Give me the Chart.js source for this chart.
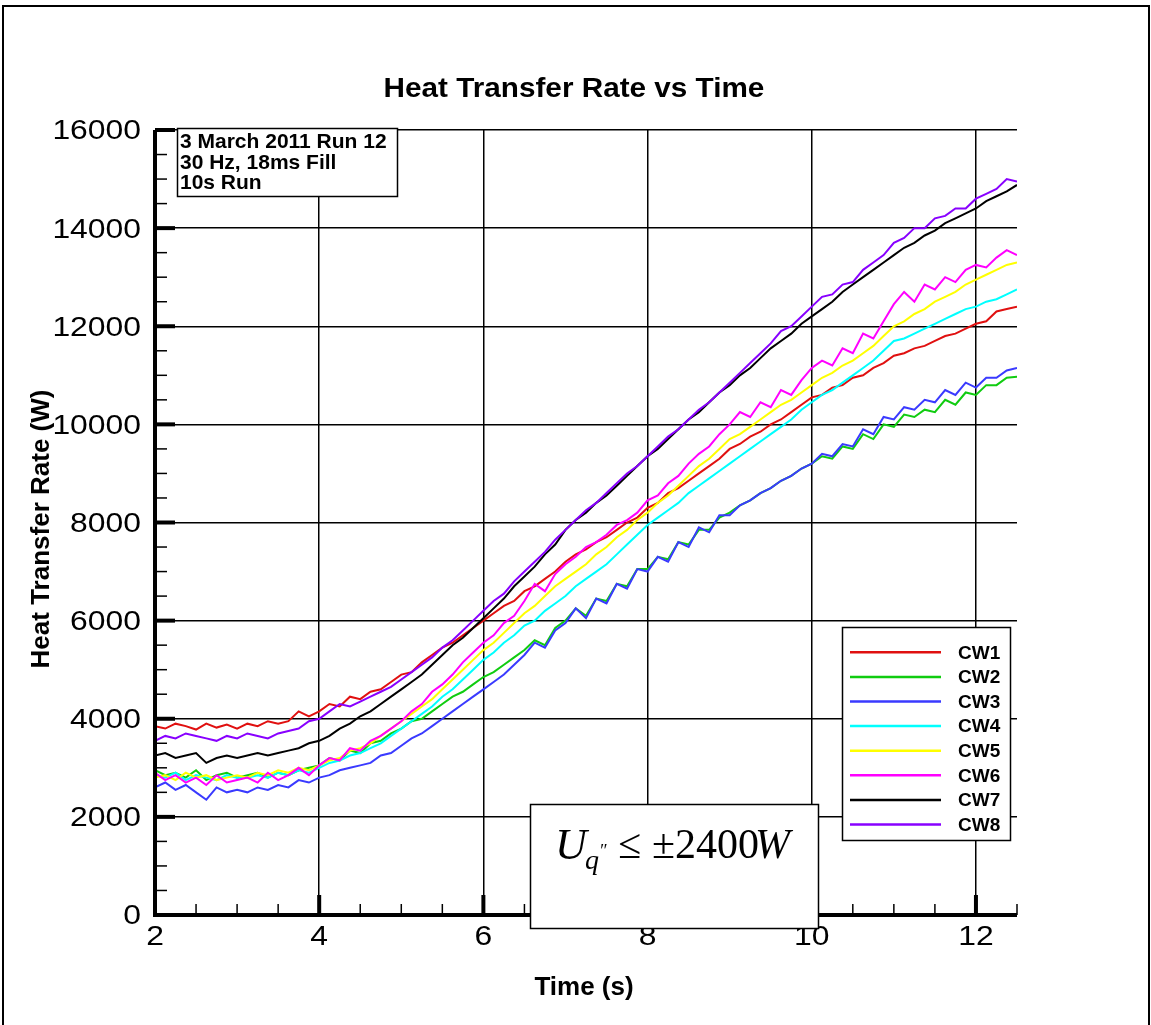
<!DOCTYPE html>
<html>
<head>
<meta charset="utf-8">
<title>Heat Transfer Rate vs Time</title>
<script src="https://cdn.jsdelivr.net/npm/chart.js@4.4.1/dist/chart.umd.min.js"></script>
<style>
  html, body { margin: 0; padding: 0; background: #ffffff; }
  canvas { display: block; }
</style>
</head>
<body>
<canvas id="chart" width="1151" height="1025"></canvas>
<script>
// Sample grid: one reading every 0.125 s from 2 s to 12.5 s
const sampleStart = 2;
const sampleStep = 0.125;
const sampleCount = 85;
const time = Array.from({ length: sampleCount }, (_, i) => sampleStart + i * sampleStep);

const seriesNames = ['CW1', 'CW2', 'CW3', 'CW4', 'CW5', 'CW6', 'CW7', 'CW8'];
const seriesColors = ['#e01010', '#10cc10', '#3a3aff', '#00ffff', '#ffff00', '#ff00ff', '#000000', '#8800ff'];

// Heat transfer rate (W) per channel
const cw1 = [3850, 3800, 3900, 3850, 3780, 3900, 3820, 3880, 3800,
  3900, 3850, 3950, 3900, 3950, 4150, 4050, 4150,
  4300, 4250, 4450, 4400, 4550, 4600, 4750, 4900,
  4950, 5150, 5300, 5450, 5550, 5700, 5850, 6000,
  6150, 6300, 6400, 6600, 6700, 6850, 7000, 7200,
  7350, 7450, 7600, 7700, 7850, 8000, 8100, 8300,
  8400, 8600, 8700, 8850, 9000, 9150, 9300, 9500,
  9600, 9750, 9850, 10000, 10100, 10250, 10400, 10550,
  10600, 10750, 10800, 10950, 11000, 11150, 11250, 11400,
  11450, 11550, 11600, 11700, 11800, 11850, 11950, 12050,
  12100, 12300, 12350, 12400];
const cw2 = [2950, 2850, 2900, 2800, 2950, 2750, 2850, 2900, 2800,
  2850, 2900, 2800, 2900, 2850, 2950, 3000, 3050,
  3200, 3150, 3350, 3300, 3500, 3550, 3700, 3800,
  3950, 4000, 4150, 4300, 4450, 4550, 4700, 4850,
  4950, 5100, 5250, 5400, 5600, 5500, 5850, 6000,
  6250, 6100, 6450, 6400, 6750, 6700, 7050, 7050,
  7300, 7250, 7600, 7550, 7850, 7850, 8100, 8200,
  8350, 8450, 8600, 8700, 8850, 8950, 9100, 9200,
  9350, 9300, 9550, 9500, 9800, 9700, 10000, 9950,
  10200, 10150, 10300, 10250, 10500, 10400, 10650, 10600,
  10800, 10800, 10950, 10970];
const cw3 = [2600, 2700, 2550, 2650, 2500, 2350, 2600, 2500, 2550,
  2500, 2600, 2550, 2650, 2600, 2750, 2700, 2800,
  2850, 2950, 3000, 3050, 3100, 3250, 3300, 3450,
  3600, 3700, 3850, 4000, 4150, 4300, 4450, 4600,
  4750, 4900, 5100, 5300, 5550, 5450, 5800, 5950,
  6250, 6050, 6450, 6350, 6750, 6650, 7050, 7000,
  7300, 7200, 7600, 7500, 7900, 7800, 8150, 8150,
  8350, 8450, 8600, 8700, 8850, 8950, 9100, 9200,
  9400, 9350, 9600, 9550, 9900, 9800, 10150, 10100,
  10350, 10300, 10500, 10450, 10700, 10600, 10850, 10750,
  10950, 10950, 11100, 11150];
const cw4 = [2850, 2800, 2900, 2750, 2850, 2800, 2750, 2850, 2800,
  2800, 2850, 2800, 2900, 2850, 2950, 2900, 3000,
  3100, 3150, 3250, 3300, 3400, 3500, 3650, 3800,
  3950, 4100, 4250, 4450, 4600, 4800, 5000, 5200,
  5350, 5550, 5700, 5900, 6000, 6200, 6350, 6500,
  6700, 6850, 7000, 7150, 7350, 7550, 7750, 7950,
  8100, 8250, 8400, 8600, 8750, 8900, 9050, 9200,
  9350, 9500, 9650, 9800, 9950, 10100, 10300, 10450,
  10600, 10700, 10850, 11000, 11150, 11300, 11500, 11700,
  11750, 11850, 11950, 12050, 12150, 12250, 12350, 12400,
  12500, 12550, 12650, 12750];
const cw5 = [2800, 2850, 2750, 2900, 2800, 2850, 2750, 2800, 2850,
  2800, 2900, 2850, 2950, 2900, 3000, 2950, 3050,
  3150, 3200, 3350, 3400, 3500, 3650, 3800, 3950,
  4100, 4250, 4400, 4600, 4800, 5000, 5200, 5400,
  5550, 5750, 5950, 6150, 6300, 6500, 6700, 6850,
  7000, 7150, 7350, 7500, 7700, 7850, 8050, 8200,
  8400, 8550, 8750, 8950, 9150, 9300, 9500, 9700,
  9800, 9950, 10100, 10250, 10400, 10500, 10650, 10800,
  10950, 11050, 11200, 11300, 11450, 11600, 11800, 12000,
  12100, 12250, 12350, 12500, 12600, 12700, 12850, 12950,
  13050, 13150, 13250, 13300];
const cw6 = [2900, 2750, 2850, 2700, 2800, 2650, 2850, 2700, 2750,
  2800, 2700, 2900, 2750, 2850, 3000, 2850, 3050,
  3200, 3150, 3400, 3350, 3550, 3650, 3800, 3950,
  4150, 4300, 4550, 4700, 4900, 5150, 5350, 5550,
  5700, 5950, 6100, 6400, 6750, 6600, 6950, 7150,
  7300, 7500, 7600, 7750, 7950, 8050, 8200, 8450,
  8550, 8800, 8950, 9200, 9400, 9550, 9800, 10000,
  10250, 10150, 10450, 10350, 10700, 10600, 10900, 11150,
  11300, 11200, 11550, 11450, 11850, 11750, 12100, 12450,
  12700, 12500, 12850, 12750, 13000, 12900, 13150, 13250,
  13200, 13400, 13550, 13450];
const cw7 = [3250, 3300, 3200, 3250, 3300, 3100, 3200, 3250, 3200,
  3250, 3300, 3250, 3300, 3350, 3400, 3500, 3550,
  3650, 3800, 3900, 4050, 4150, 4300, 4450, 4600,
  4750, 4900, 5100, 5300, 5500, 5650, 5850, 6050,
  6250, 6450, 6700, 6900, 7100, 7350, 7550, 7850,
  8050, 8200, 8400, 8550, 8750, 8950, 9150, 9350,
  9500, 9700, 9900, 10100, 10250, 10450, 10650, 10800,
  11000, 11150, 11350, 11550, 11700, 11850, 12050, 12200,
  12350, 12500, 12700, 12850, 13000, 13150, 13300, 13450,
  13600, 13700, 13850, 13950, 14100, 14200, 14300, 14400,
  14550, 14650, 14750, 14880];
const cw8 = [3550, 3650, 3600, 3700, 3650, 3600, 3550, 3650, 3600,
  3700, 3650, 3600, 3700, 3750, 3800, 3950, 4000,
  4150, 4300, 4250, 4350, 4450, 4550, 4650, 4800,
  4950, 5100, 5250, 5450, 5600, 5800, 6000, 6200,
  6400, 6550, 6800, 7000, 7200, 7400, 7650, 7850,
  8050, 8250, 8400, 8600, 8800, 9000, 9150, 9350,
  9550, 9750, 9900, 10100, 10300, 10450, 10650, 10850,
  11050, 11250, 11450, 11650, 11900, 12000, 12200, 12400,
  12600, 12650, 12850, 12900, 13150, 13300, 13450, 13700,
  13800, 14000, 14000, 14200, 14250, 14400, 14400, 14600,
  14700, 14800, 15000, 14950];
const seriesValues = [cw1, cw2, cw3, cw4, cw5, cw6, cw7, cw8];

const xTicks = [2, 4, 6, 8, 10, 12];
const yTicks = [0, 2000, 4000, 6000, 8000, 10000, 12000, 14000, 16000];
const xMinorStep = 0.5;
const yMinorStep = 500;

const chartTitle = 'Heat Transfer Rate vs Time';
const xTitle = 'Time (s)';
const yTitle = 'Heat Transfer Rate (W)';
const infoLines = ['3 March 2011 Run 12', '30 Hz, 18ms Fill', '10s Run'];

const SANS = '"Liberation Sans", Arial, Helvetica, sans-serif';
const SERIF = '"Liberation Serif", "Times New Roman", serif';

function stretchedText(ctx, text, x, y, align, font, sx) {
  ctx.save();
  ctx.translate(x, y);
  ctx.scale(sx, 1);
  ctx.font = font;
  ctx.textAlign = align;
  ctx.textBaseline = 'middle';
  ctx.fillText(text, 0, 0);
  ctx.restore();
}

function seg(ctx, x1, y1, x2, y2, w) {
  ctx.lineWidth = w;
  ctx.beginPath();
  ctx.moveTo(x1, y1);
  ctx.lineTo(x2, y2);
  ctx.stroke();
}

const decorations = {
  id: 'decorations',
  afterDraw(chart) {
    const { ctx, chartArea: a, scales: { x, y } } = chart;
    ctx.save();
    ctx.fillStyle = '#000';
    ctx.strokeStyle = '#000';

    // page frame
    ctx.lineWidth = 2;
    ctx.strokeRect(3, 6, 1146, 1030);

    // axes
    seg(ctx, a.left, a.top, a.left, a.bottom + 2, 4);
    seg(ctx, a.left - 2, a.bottom, a.right, a.bottom, 4);

    // x ticks
    for (let v = x.min; v <= x.max + 1e-9; v += xMinorStep) {
      const px = x.getPixelForValue(v);
      const major = xTicks.includes(v);
      seg(ctx, px, a.bottom, px, a.bottom - (major ? 20 : 11), major ? 4 : 1.5);
    }
    // y ticks
    for (let v = y.min; v <= y.max + 1e-9; v += yMinorStep) {
      const py = y.getPixelForValue(v);
      const major = yTicks.includes(v);
      seg(ctx, a.left, py, a.left + (major ? 20 : 12), py, major ? 4 : 1.5);
    }

    // tick labels
    const tickFont = '27px ' + SANS;
    xTicks.forEach(v => stretchedText(ctx, String(v), x.getPixelForValue(v), a.bottom + 23, 'center', tickFont, 1.18));
    yTicks.forEach(v => stretchedText(ctx, String(v), a.left - 14, y.getPixelForValue(v) + 2, 'right', tickFont, 1.18));

    // titles
    stretchedText(ctx, chartTitle, 574, 90, 'center', 'bold 27px ' + SANS, 1.1);
    stretchedText(ctx, xTitle, 584, 988, 'center', 'bold 26px ' + SANS, 1);
    ctx.save();
    ctx.translate(42, 529);
    ctx.rotate(-Math.PI / 2);
    stretchedText(ctx, yTitle, 0, 0, 'center', 'bold 26px ' + SANS, 1);
    ctx.restore();

    // run information box
    ctx.fillStyle = '#fff';
    ctx.fillRect(177.5, 128.5, 220, 68);
    ctx.lineWidth = 1.5;
    ctx.strokeRect(177.5, 128.5, 220, 68);
    ctx.fillStyle = '#000';
    ctx.font = 'bold 21px ' + SANS;
    ctx.textAlign = 'left';
    ctx.textBaseline = 'alphabetic';
    infoLines.forEach((t, i) => ctx.fillText(t, 180, 148 + i * 20.5));

    // legend
    ctx.fillStyle = '#fff';
    ctx.fillRect(842.5, 627.5, 168, 213);
    ctx.lineWidth = 1.5;
    ctx.strokeRect(842.5, 627.5, 168, 213);
    ctx.font = 'bold 19px ' + SANS;
    ctx.textBaseline = 'middle';
    seriesNames.forEach((name, i) => {
      const ly = 652.3 + i * 24.6;
      ctx.strokeStyle = seriesColors[i];
      seg(ctx, 850, ly, 941, ly, 2.5);
      ctx.fillStyle = '#000';
      ctx.fillText(name, 958, ly + 1);
    });

    // uncertainty box
    ctx.strokeStyle = '#000';
    ctx.fillStyle = '#fff';
    ctx.fillRect(530.5, 804.5, 288, 124);
    ctx.lineWidth = 1.5;
    ctx.strokeRect(530.5, 804.5, 288, 124);
    ctx.fillStyle = '#000';
    ctx.textBaseline = 'alphabetic';
    ctx.textAlign = 'left';
    ctx.font = 'italic 44px ' + SERIF;
    ctx.fillText('U', 555, 859);
    ctx.font = 'italic 28px ' + SERIF;
    ctx.fillText('q', 585, 869);
    ctx.font = 'italic 18px ' + SERIF;
    ctx.fillText('\u2033', 599, 857);
    ctx.font = '42px ' + SERIF;
    ctx.fillText('\u2264', 618, 858);
    ctx.fillText('\u00B12400', 652, 858);
    ctx.font = 'italic 42px ' + SERIF;
    ctx.fillText('W', 755, 858);

    ctx.restore();
  }
};

const datasets = seriesValues.map((vals, i) => ({
  label: seriesNames[i],
  data: time.map((t, k) => ({ x: t, y: vals[k] })),
  borderColor: seriesColors[i],
  backgroundColor: seriesColors[i],
  borderWidth: 2,
  pointRadius: 0,
  tension: 0,
  fill: false,
  order: seriesNames.length - i
}));

new Chart(document.getElementById('chart'), {
  type: 'line',
  data: { datasets },
  plugins: [decorations],
  options: {
    responsive: false,
    animation: false,
    layout: { padding: { top: 130, right: 134, bottom: 0, left: 0 } },
    plugins: { legend: { display: false }, tooltip: { enabled: false }, title: { display: false } },
    scales: {
      x: {
        type: 'linear',
        min: 2,
        max: 12.5,
        afterBuildTicks: s => { s.ticks = xTicks.map(v => ({ value: v })); },
        afterFit: s => { s.height = 110; },
        ticks: { display: false },
        border: { display: false },
        grid: { color: '#000', lineWidth: 1.5, drawTicks: false }
      },
      y: {
        type: 'linear',
        min: 0,
        max: 16000,
        afterBuildTicks: s => { s.ticks = yTicks.map(v => ({ value: v })); },
        afterFit: s => { s.width = 155; },
        ticks: { display: false },
        border: { display: false },
        grid: { color: '#000', lineWidth: 1.5, drawTicks: false }
      }
    }
  }
});
</script>
</body>
</html>
